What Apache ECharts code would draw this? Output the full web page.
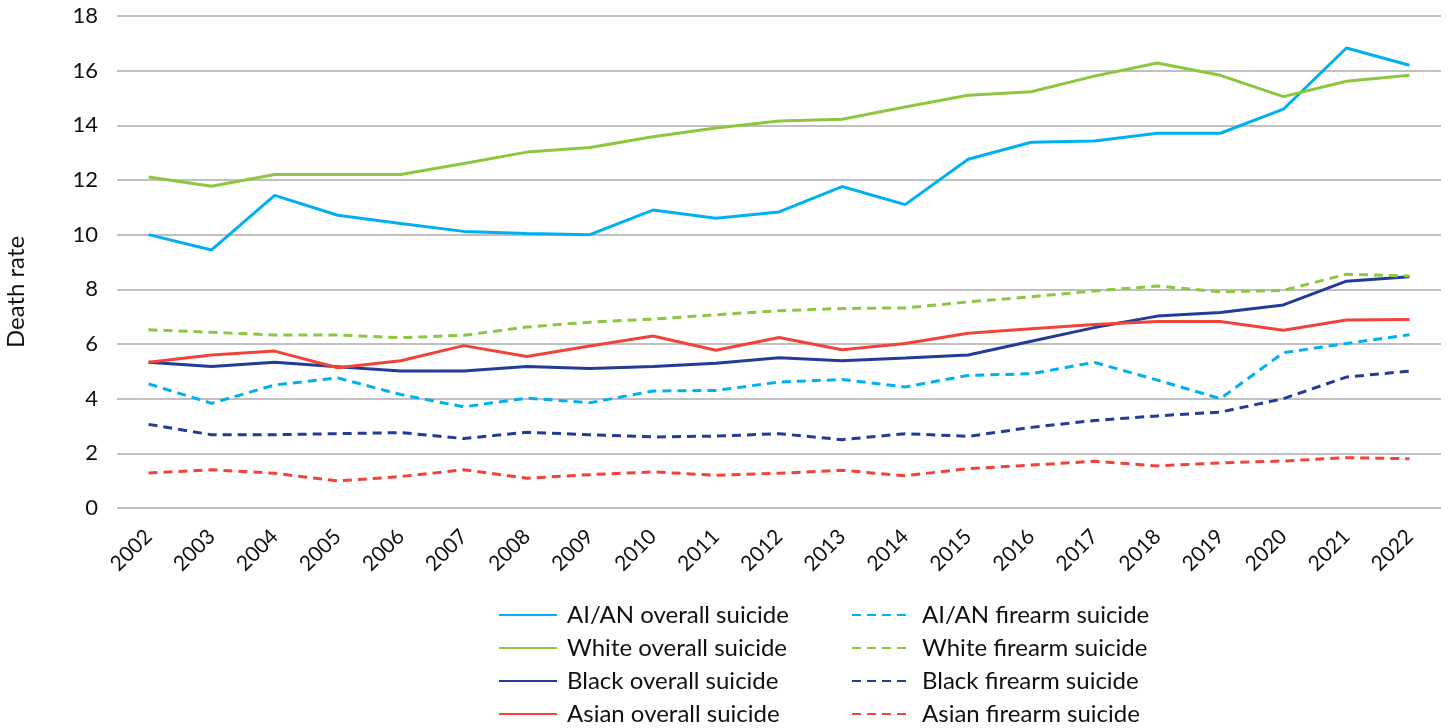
<!DOCTYPE html>
<html><head><meta charset="utf-8">
<script src="https://cdn.jsdelivr.net/npm/echarts@6/dist/echarts.min.js"></script>
<style>html,body{margin:0;padding:0;background:#fff}#c{width:1452px;height:728px}</style>
</head><body><div id="c"></div>
<script>
const years = ['2002','2003','2004','2005','2006','2007','2008','2009','2010','2011','2012','2013','2014','2015','2016','2017','2018','2019','2020','2021','2022'];
const aianOverall = [10.0,9.44,11.44,10.71,10.41,10.12,10.04,10.0,10.9,10.6,10.83,11.76,11.1,12.76,13.38,13.43,13.71,13.71,14.59,16.83,16.2];
const whiteOverall = [12.11,11.77,12.2,12.2,12.2,12.6,13.02,13.19,13.58,13.9,14.16,14.22,14.67,15.1,15.23,15.8,16.28,15.83,15.05,15.61,15.83];
const blackOverall = [5.33,5.18,5.33,5.17,5.01,5.01,5.18,5.1,5.18,5.3,5.5,5.39,5.49,5.6,6.1,6.6,7.02,7.15,7.43,8.3,8.46];
const asianOverall = [5.33,5.6,5.74,5.13,5.39,5.94,5.54,5.93,6.29,5.77,6.24,5.79,6.02,6.39,6.56,6.71,6.82,6.82,6.5,6.88,6.9];
const aianFirearm = [4.54,3.83,4.5,4.76,4.15,3.7,4.02,3.85,4.28,4.3,4.61,4.7,4.43,4.85,4.91,5.33,4.68,4.0,5.68,6.02,6.34];
const whiteFirearm = [6.52,6.43,6.33,6.33,6.23,6.32,6.62,6.8,6.91,7.07,7.22,7.3,7.32,7.54,7.73,7.94,8.12,7.91,7.96,8.55,8.49];
const blackFirearm = [3.06,2.68,2.68,2.72,2.76,2.54,2.77,2.68,2.6,2.63,2.72,2.5,2.72,2.62,2.95,3.2,3.37,3.51,4.0,4.79,5.01];
const asianFirearm = [1.28,1.4,1.27,0.99,1.15,1.4,1.09,1.22,1.32,1.2,1.27,1.38,1.18,1.44,1.57,1.71,1.54,1.65,1.72,1.84,1.8];
const yTicks = {min:0, max:18, interval:2};
const yTitle = 'Death rate';

const C = {aian:'#00B0F0', white:'#8DC63F', black:'#233C96', asian:'#F0443A'};
const FONT = 'Lato';
function s(name, data, color, dashed){
  return {name, type:'line', data, symbol:'none', smooth:false,
    lineStyle:{color, width:3, type: dashed ? [9,6] : 'solid'},
    itemStyle:{color}, emphasis:{disabled:true}};
}
const chart = echarts.init(document.getElementById('c'), null, {renderer:'canvas'});
function legend(left, textGap, names){
  return {orient:'vertical', left, top:598, height:130, itemWidth:58, itemHeight:14, itemGap:9,
    itemStyle:{opacity:0, borderWidth:0},
    textStyle:{fontFamily:FONT, fontSize:24, lineHeight:24, color:'#111', padding:[0,0,0,textGap]},
    selectedMode:false, data:names};
}
chart.setOption({
  animation:false,
  grid:{left:117, right:11, top:16, bottom:220, containLabel:false},
  xAxis:{type:'category', data:years, boundaryGap:true,
    axisLine:{show:false}, axisTick:{show:false},
    axisLabel:{rotate:45, fontFamily:FONT, fontSize:21, color:'#111', margin:25, interval:0}},
  yAxis:{type:'value', min:yTicks.min, max:yTicks.max, interval:yTicks.interval,
    axisLine:{show:false}, axisTick:{show:false},
    axisLabel:{fontFamily:FONT, fontSize:22, color:'#111', margin:19},
    splitLine:{lineStyle:{color:'#C0C0C0', width:2}}},
  graphic:[{type:'text', x:16, y:292, rotation:Math.PI/2,
    style:{text:yTitle, fontFamily:FONT, fontSize:24, fill:'#111', align:'center', verticalAlign:'middle'}}],
  legend:[
    legend(493, 5, ['AI/AN overall suicide','White overall suicide','Black overall suicide','Asian overall suicide']),
    legend(846, 7, ['AI/AN firearm suicide','White firearm suicide','Black firearm suicide','Asian firearm suicide'])
  ],
  series:[
    s('AI/AN overall suicide', aianOverall, C.aian, false),
    s('White overall suicide', whiteOverall, C.white, false),
    s('Black overall suicide', blackOverall, C.black, false),
    s('Asian overall suicide', asianOverall, C.asian, false),
    s('AI/AN firearm suicide', aianFirearm, C.aian, true),
    s('White firearm suicide', whiteFirearm, C.white, true),
    s('Black firearm suicide', blackFirearm, C.black, true),
    s('Asian firearm suicide', asianFirearm, C.asian, true)
  ]
});
</script></body></html>
